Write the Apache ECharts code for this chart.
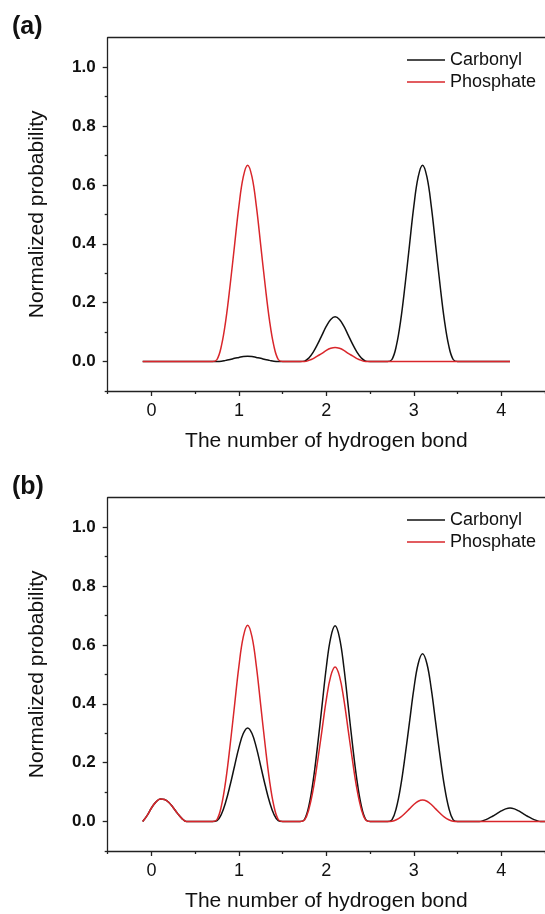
<!DOCTYPE html>
<html>
<head>
<meta charset="utf-8">
<script src="https://cdn.jsdelivr.net/npm/echarts@6/dist/echarts.min.js"></script>
<style>
  html, body { margin: 0; padding: 0; background: #fff; overflow: hidden; }
  #chart { width: 545px; height: 914px; }
</style>
</head>
<body>
<div id="chart"></div>
<script>
// x positions (number of hydrogen bonds) of the sampled curve points
const xValues = [-0.1,-0.05,0,0.05,0.1,0.15,0.2,0.25,0.3,0.35,0.4,0.45,0.5,0.55,0.6,0.65,0.7,0.75,0.8,0.85,
  0.9,0.95,1,1.05,1.1,1.15,1.2,1.25,1.3,1.35,1.4,1.45,1.5,1.55,1.6,1.65,1.7,1.75,1.8,1.85,
  1.9,1.95,2,2.05,2.1,2.15,2.2,2.25,2.3,2.35,2.4,2.45,2.5,2.55,2.6,2.65,2.7,2.75,2.8,2.85,
  2.9,2.95,3,3.05,3.1,3.15,3.2,3.25,3.3,3.35,3.4,3.45,3.5,3.55,3.6,3.65,3.7,3.75,3.8,3.85,
  3.9,3.95,4,4.05,4.1,4.15,4.2,4.25,4.3,4.35,4.4,4.45,4.5];

// Panel (a)
const carbonylA = [0,0,0,0,0,0,0,0,0,0,0,0,0,0,0,0,0,
  0,0.001,0.004,0.007,0.011,0.014,0.017,0.018,0.017,0.014,0.011,0.007,0.004,0.001,0,
  0,0,0,0,0,
  0.0015,0.012,0.032,0.059,0.090,0.120,0.143,0.152,0.143,0.120,0.090,0.059,0.032,0.012,0.0015,
  0,0,0,0,0,
  0.007,0.053,0.140,0.260,0.394,0.527,0.627,0.667,0.627,0.527,0.394,0.260,0.140,0.053,0.007,
  0,0,0,0,0,0,0,0,0,0,0,0,0];
const phosphateA = [0,0,0,0,0,0,0,0,0,0,0,0,0,0,0,0,0,
  0.007,0.053,0.140,0.260,0.394,0.527,0.627,0.667,0.627,0.527,0.394,0.260,0.140,0.053,0.007,
  0,0,0,0,0,
  0,0.004,0.010,0.019,0.028,0.038,0.045,0.048,0.045,0.038,0.028,0.019,0.010,0.004,0,
  0,0,0,0,0,0,0,0,0,0,0,0,0,0,0,0,0,0,0,0,0,0,0,0,0,0,0,0,0,0,0,0,0];

// Panel (b)
const carbonylB = [0,0.02,0.046,0.066,0.077,0.075,0.065,0.047,0.027,0.01,0,
  0,0,0,0,0,0,
  0.003,0.025,0.067,0.124,0.188,0.251,0.299,0.318,0.299,0.251,0.188,0.124,0.067,0.025,0.003,
  0,0,0,0,0,
  0.007,0.053,0.140,0.259,0.392,0.525,0.625,0.665,0.625,0.525,0.392,0.259,0.140,0.053,0.007,
  0,0,0,0,0,
  0.006,0.046,0.120,0.222,0.336,0.450,0.536,0.570,0.536,0.450,0.336,0.222,0.120,0.046,0.006,
  0,0,0,0,0,
  0,0.004,0.010,0.018,0.027,0.036,0.043,0.046,0.043,0.036,0.027,0.018,0.010,0.004,0,
  0];
const phosphateB = [0,0.02,0.046,0.066,0.077,0.075,0.065,0.047,0.027,0.01,0,
  0,0,0,0,0,0,
  0.007,0.053,0.140,0.260,0.394,0.527,0.627,0.667,0.627,0.527,0.394,0.260,0.140,0.053,0.007,
  0,0,0,0,0,
  0.005,0.042,0.110,0.205,0.310,0.415,0.494,0.525,0.494,0.415,0.310,0.205,0.110,0.042,0.005,
  0,0,0,0,0,
  0.001,0.006,0.015,0.028,0.043,0.058,0.069,0.073,0.069,0.058,0.043,0.028,0.015,0.006,0.001,
  0,0,0,0,0,0,0,0,0,0,0,0,0,0,0,0,0,0,0,0,0];

const xMajorTicks = [0, 1, 2, 3, 4];
const xMinorTicks = [-0.5, 0.5, 1.5, 2.5, 3.5, 4.5];
const yMajorTicks = [0, 0.2, 0.4, 0.6, 0.8, 1.0];
const yMinorTicks = [-0.1, 0.1, 0.3, 0.5, 0.7, 0.9];
const seriesNames = ['Carbonyl', 'Phosphate'];
const panelLabels = ['(a)', '(b)'];
const xAxisTitle = 'The number of hydrogen bond';
const yAxisTitle = 'Normalized probability';

const FONT = '"Liberation Sans", Arial, Helvetica, sans-serif';
const AXIS_COLOR = '#222';
const BLACK = '#111';
const RED = '#d9262b';

function pairs(ys) {
  return ys.map((y, i) => [xValues[i], y]);
}

const panels = [
  { label: panelLabels[0], carbonyl: carbonylA, phosphate: phosphateA, dy: 0 },
  { label: panelLabels[1], carbonyl: carbonylB, phosphate: phosphateB, dy: 460 }
];

const option = {
  backgroundColor: '#fff',
  animation: false,
  title: [], legend: [], grid: [], xAxis: [], yAxis: [], series: []
};

panels.forEach((p, k) => {
  const top = 37.7 + p.dy;
  option.title.push({
    text: p.label, left: 12, top: 15 + p.dy, padding: 0,
    textStyle: { fontFamily: FONT, fontSize: 25, fontWeight: 'bold', color: '#111' }
  });
  option.legend.push({
    data: seriesNames, orient: 'vertical', left: 407, top: 51 + p.dy, padding: 0,
    icon: 'rect', itemWidth: 38, itemHeight: 1.5, itemGap: 4,
    textStyle: { fontFamily: FONT, fontSize: 18, color: '#111' }
  });
  option.grid.push({
    left: 107.7, top: top, width: 440, height: 353.3, show: false
  });
  const xBase = {
    type: 'value', gridIndex: k, min: -0.5, max: 4.5, position: 'bottom',
    splitLine: { show: false },
    axisLine: { show: true, onZero: false, lineStyle: { color: AXIS_COLOR, width: 1.3 } }
  };
  option.xAxis.push(Object.assign({}, xBase, {
    name: xAxisTitle, nameLocation: 'middle', nameGap: 40,
    nameTextStyle: { fontFamily: FONT, fontSize: 21, color: '#111' },
    axisTick: { show: true, length: 5, customValues: xMajorTicks, lineStyle: { color: AXIS_COLOR, width: 1.3 } },
    axisLabel: { show: true, customValues: xMajorTicks, margin: 11,
      fontFamily: FONT, fontSize: 18, color: '#111', formatter: v => String(Math.round(v)) }
  }));
  option.xAxis.push(Object.assign({}, xBase, {
    axisLine: { show: false, onZero: false },
    axisTick: { show: true, length: 3, customValues: xMinorTicks, lineStyle: { color: AXIS_COLOR, width: 1.3 } },
    axisLabel: { show: false }
  }));
  // top frame line
  option.xAxis.push(Object.assign({}, xBase, {
    position: 'top',
    axisTick: { show: false },
    axisLabel: { show: false }
  }));
  const yBase = {
    type: 'value', gridIndex: k, min: -0.1, max: 1.1, position: 'left',
    splitLine: { show: false },
    axisLine: { show: true, onZero: false, lineStyle: { color: AXIS_COLOR, width: 1.3 } }
  };
  option.yAxis.push(Object.assign({}, yBase, {
    name: yAxisTitle, nameLocation: 'middle', nameGap: 60,
    nameTextStyle: { fontFamily: FONT, fontSize: 21, color: '#111' },
    axisTick: { show: true, length: 5, customValues: yMajorTicks, lineStyle: { color: AXIS_COLOR, width: 1.3 } },
    axisLabel: { show: true, customValues: yMajorTicks, margin: 12,
      fontFamily: FONT, fontSize: 17, fontWeight: 'bold', color: '#111', formatter: v => v.toFixed(1) }
  }));
  option.yAxis.push(Object.assign({}, yBase, {
    axisLine: { show: false, onZero: false },
    axisTick: { show: true, length: 3, customValues: yMinorTicks, lineStyle: { color: AXIS_COLOR, width: 1.3 } },
    axisLabel: { show: false }
  }));
  const common = {
    type: 'line', xAxisIndex: 3 * k, yAxisIndex: 2 * k, showSymbol: false, symbol: 'none',
    smooth: 0.4, clip: true
  };
  option.series.push(Object.assign({}, common, {
    name: seriesNames[0], data: pairs(p.carbonyl), z: 2,
    lineStyle: { color: BLACK, width: 1.5 }, itemStyle: { color: BLACK }
  }));
  option.series.push(Object.assign({}, common, {
    name: seriesNames[1], data: pairs(p.phosphate), z: 3,
    lineStyle: { color: RED, width: 1.5 }, itemStyle: { color: RED }
  }));
});

const chart = echarts.init(document.getElementById('chart'), null, { renderer: 'canvas' });
chart.setOption(option);
</script>
</body>
</html>
